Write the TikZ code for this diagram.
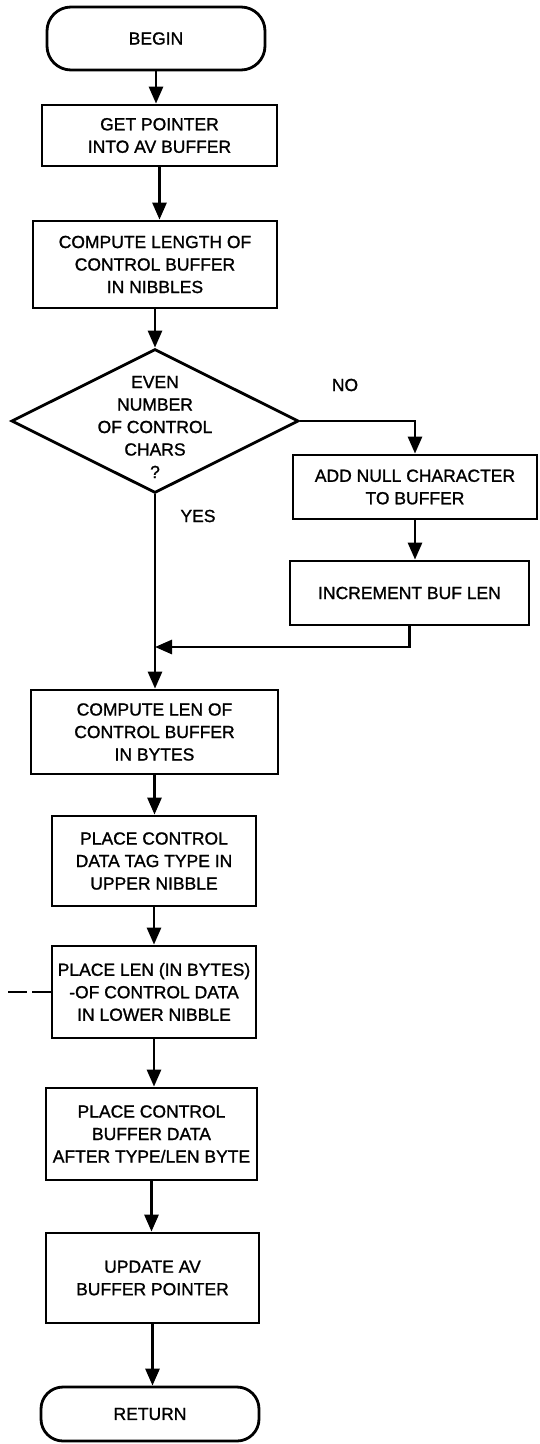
\documentclass[tikz,border=0pt]{standalone}
\usepackage{fontspec}
\setmainfont{Liberation Sans}
\newfontfamily\letterfont{Liberation Sans}[FakeBold=1.2]
\usetikzlibrary{arrows.meta,shapes.geometric}

\tikzset{
  lettering/.style={font=\letterfont\fontsize{17.5}{22.5}\selectfont, align=center},
  procbox/.style={draw, line width=2.8pt, rectangle, inner sep=0pt, lettering},
  terminal/.style={draw, line width=2.8pt, rectangle, rounded corners=24pt, inner sep=0pt, lettering},
  decision/.style={draw, line width=2.8pt, diamond, inner sep=0pt},
  flow/.style={line width=2.8pt, -{Triangle[length=17pt,width=14pt]}},
  plainflow/.style={line width=2.6pt},
  lbl/.style={lettering, inner sep=0pt}
}

\begin{document}
\begin{tikzpicture}[x=1pt, y=-1pt]
\useasboundingbox (0,0) rectangle (539,1444);

% main column
\node[terminal, minimum width=218pt, minimum height=63pt] (begin) at (156,38.5) {BEGIN};
\node[procbox, minimum width=235pt, minimum height=61pt] (getptr) at (159.5,135.5) {GET POINTER\\INTO AV BUFFER};
\node[procbox, minimum width=244pt, minimum height=87pt] (nibbles) at (155,264.5) {COMPUTE LENGTH OF\\CONTROL BUFFER\\IN NIBBLES};
\node[decision, minimum width=287pt, minimum height=144pt] (even) at (155,421) {};
\node[lbl] at (155,427) {EVEN\\NUMBER\\OF CONTROL\\CHARS\\?};

% odd-length branch
\node[procbox, minimum width=244pt, minimum height=64pt] (addnull) at (415,487) {ADD NULL CHARACTER\\TO BUFFER};
\node[procbox, minimum width=239pt, minimum height=64pt] (incr) at (409.5,593) {INCREMENT BUF LEN};

\node[procbox, minimum width=247pt, minimum height=84pt] (bytes) at (154.5,732) {COMPUTE LEN OF\\CONTROL BUFFER\\IN BYTES};
\node[procbox, minimum width=204pt, minimum height=90pt] (tagtype) at (154,861) {PLACE CONTROL\\DATA TAG TYPE IN\\UPPER NIBBLE};
\node[procbox, minimum width=204pt, minimum height=92pt] (lenbyte) at (154,992) {PLACE LEN (IN BYTES)\\-OF CONTROL DATA\\IN LOWER NIBBLE};
\node[procbox, minimum width=211pt, minimum height=92pt] (copydata) at (151.5,1134) {PLACE CONTROL\\BUFFER DATA\\AFTER TYPE/LEN BYTE};
\node[procbox, minimum width=213pt, minimum height=90pt] (update) at (152.5,1278) {UPDATE AV\\BUFFER POINTER};
\node[terminal, rounded corners=22pt, minimum width=218pt, minimum height=54pt] (return) at (150,1414) {RETURN};

% branch labels
\node[lbl] (nolbl) at (345,385) {NO};
\node[lbl] (yeslbl) at (198,516) {YES};

% connectors
\coordinate (join) at (155,647);
\coordinate (offpage) at (8,992);

\draw[flow] (begin.south) -- (begin.south |- getptr.north);
\draw[flow] (getptr.south) -- (getptr.south |- nibbles.north);
\draw[flow] (nibbles.south) -- (nibbles.south |- even.north);
\draw[flow] (even.east) -| (addnull.north);
\draw[flow] (addnull.south) -- (addnull.south |- incr.north);
\draw[flow] (incr.south) |- (join);
\draw[flow] (even.south) -- (even.south |- bytes.north);
\draw[flow] (bytes.south) -- (bytes.south |- tagtype.north);
\draw[flow] (tagtype.south) -- (tagtype.south |- lenbyte.north);
\draw[flow] (lenbyte.south) -- (lenbyte.south |- copydata.north);
\draw[flow] (copydata.south) -- (copydata.south |- update.north);
\draw[flow] (update.south) -- (update.south |- return.north);
\draw[plainflow, dash pattern=on 19pt off 5pt] (offpage) -- (lenbyte.west);
\end{tikzpicture}
\end{document}
